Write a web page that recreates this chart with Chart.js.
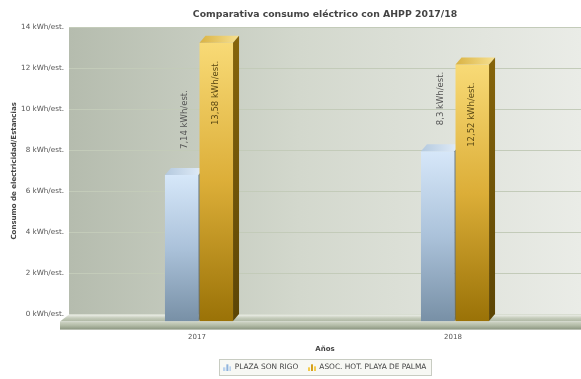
<!DOCTYPE html>
<html lang="es">
<head>
<meta charset="utf-8">
<title>Comparativa consumo eléctrico con AHPP 2017/18</title>
<script src="https://cdn.jsdelivr.net/npm/chart.js"></script>
<style>
  html, body { margin: 0; padding: 0; background: #fff; }
  #chart { display: block; }
</style>
</head>
<body>
<canvas id="chart" width="581" height="379"></canvas>
<script>
// Consumo por estancia (kWh/est.)
const years = ['2017', '2018'];
const plazaSonRigo = [7.14, 8.3];
const asocHotPlayaPalma = [13.58, 12.52];
const seriesNames = ['PLAZA SON RIGO', 'ASOC. HOT. PLAYA DE PALMA'];
const yTickValues = [0, 2, 4, 6, 8, 10, 12, 14];
const unit = 'kWh/est.';

// 3D look: bars and floor stand in a front plane shifted down/left from the back wall
const DEPTH_X = 6;
const DEPTH_Y = 7;
const BAR_SHIFT = 2;
const FLOOR_OVERHANG = 9;
const FLOOR_THICK = 8;

const palettes = [
  {
    front: ['#d6e7f9', '#abc2da', '#7890a6'],
    top: ['#b4c9de', '#e3eefa'],
    side: ['#6b8197', '#53667a'],
    label: '#555555',
    icon: ['#b9d2ee', '#8fb3dc']
  },
  {
    front: ['#f8da76', '#dcae38', '#9a7207'],
    top: ['#d9b243', '#f7e191'],
    side: ['#86650b', '#5c4505'],
    label: '#5a4814',
    icon: ['#f3cb4e', '#d4a11e']
  }
];

Chart.defaults.font.family = '"DejaVu Sans", Verdana, sans-serif';

function makeIcon(colors) {
  const c = document.createElement('canvas');
  c.width = 8;
  c.height = 8;
  const g = c.getContext('2d');
  [4, 7, 5].forEach((h, i) => {
    g.fillStyle = colors[i % 2];
    g.fillRect(i * 3, 8 - h, 2, h);
  });
  return c;
}
const icons = palettes.map(p => makeIcon(p.icon));

function fmt(v) {
  return String(v).replace('.', ',') + ' ' + unit;
}

function vGrad(ctx, y1, y2, stops) {
  const g = ctx.createLinearGradient(0, y1, 0, y2);
  stops.forEach((c, i) => g.addColorStop(i / (stops.length - 1), c));
  return g;
}

// back wall and legend frame, painted under everything else
const wallPlugin = {
  id: 'wall',
  beforeDraw(chart) {
    const { ctx, chartArea: a } = chart;
    ctx.save();
    const g = ctx.createLinearGradient(a.left, 0, a.right, 0);
    g.addColorStop(0, '#b5bcae');
    g.addColorStop(0.45, '#d3d8cd');
    g.addColorStop(1, '#eaece7');
    ctx.fillStyle = g;
    ctx.fillRect(a.left, a.top, a.right - a.left, a.bottom - a.top);

    const boxes = chart.legend && chart.legend.legendHitBoxes;
    if (boxes && boxes.length) {
      const l = Math.round(Math.min(...boxes.map(b => b.left)) - 5);
      const r = Math.round(Math.max(...boxes.map(b => b.left + b.width)) + 6);
      const t = Math.round(Math.min(...boxes.map(b => b.top)) - 5);
      const bt = Math.round(Math.max(...boxes.map(b => b.top + b.height)) + 5);
      ctx.fillStyle = '#f7f8f4';
      ctx.fillRect(l, t, r - l, bt - t);
      ctx.strokeStyle = '#c8ccc2';
      ctx.lineWidth = 1;
      ctx.strokeRect(l + 0.5, t + 0.5, r - l - 1, bt - t - 1);
    }
    ctx.restore();
  }
};

// floor slab at the zero line
const floorPlugin = {
  id: 'floor',
  beforeDatasetsDraw(chart) {
    const { ctx, chartArea: a } = chart;
    const y0 = chart.scales.y.getPixelForValue(0);
    const fl = a.left - FLOOR_OVERHANG;
    ctx.save();
    ctx.beginPath();
    ctx.moveTo(a.left, y0);
    ctx.lineTo(a.right, y0);
    ctx.lineTo(a.right, y0 + DEPTH_Y);
    ctx.lineTo(fl, y0 + DEPTH_Y);
    ctx.closePath();
    ctx.fillStyle = vGrad(ctx, y0, y0 + DEPTH_Y, ['#eef0ea', '#c4cbba', '#adb6a2']);
    ctx.fill();
    ctx.fillStyle = vGrad(ctx, y0 + DEPTH_Y, y0 + DEPTH_Y + FLOOR_THICK, ['#cfd5c6', '#b1baa5', '#8a947f']);
    ctx.fillRect(fl, y0 + DEPTH_Y, a.right - fl, FLOOR_THICK);
    ctx.restore();
  }
};

// extruded bars plus rotated value labels
const barsPlugin = {
  id: 'bars3d',
  afterDatasetsDraw(chart) {
    const ctx = chart.ctx;
    ctx.save();
    chart.data.datasets.forEach((ds, di) => {
      const pal = palettes[di];
      chart.getDatasetMeta(di).data.forEach(bar => {
        const { x, y, base, width } = bar.getProps(['x', 'y', 'base', 'width'], true);
        const l = x - width / 2 + BAR_SHIFT;
        const r = x + width / 2 + BAR_SHIFT;
        const top = y + DEPTH_Y;
        const bot = base + DEPTH_Y;

        ctx.fillStyle = vGrad(ctx, top, bot, pal.front);
        ctx.fillRect(l, top, r - l, bot - top);

        ctx.beginPath();
        ctx.moveTo(l, top);
        ctx.lineTo(l + DEPTH_X, y);
        ctx.lineTo(r + DEPTH_X, y);
        ctx.lineTo(r, top);
        ctx.closePath();
        const tg = ctx.createLinearGradient(l, 0, r + DEPTH_X, 0);
        tg.addColorStop(0, pal.top[0]);
        tg.addColorStop(1, pal.top[1]);
        ctx.fillStyle = tg;
        ctx.fill();

        ctx.beginPath();
        ctx.moveTo(r, top);
        ctx.lineTo(r + DEPTH_X, y);
        ctx.lineTo(r + DEPTH_X, base);
        ctx.lineTo(r, bot);
        ctx.closePath();
        ctx.fillStyle = vGrad(ctx, y, bot, pal.side);
        ctx.fill();
      });
    });

    ctx.font = '8.5px "DejaVu Sans", Verdana, sans-serif';
    ctx.textBaseline = 'middle';
    chart.data.datasets.forEach((ds, di) => {
      const pal = palettes[di];
      chart.getDatasetMeta(di).data.forEach((bar, i) => {
        const { x, y } = bar.getProps(['x', 'y'], true);
        ctx.save();
        ctx.fillStyle = pal.label;
        if (di === 0) {
          ctx.translate(x + BAR_SHIFT + 3, y - 19);
          ctx.rotate(-Math.PI / 2);
          ctx.textAlign = 'left';
        } else {
          ctx.translate(x + BAR_SHIFT, y + DEPTH_Y + 18);
          ctx.rotate(-Math.PI / 2);
          ctx.textAlign = 'right';
        }
        ctx.fillText(fmt(ds.data[i]), 0, 0);
        ctx.restore();
      });
    });
    ctx.restore();
  }
};

new Chart(document.getElementById('chart'), {
  type: 'bar',
  data: {
    labels: years,
    datasets: [
      { label: seriesNames[0], data: plazaSonRigo },
      { label: seriesNames[1], data: asocHotPlayaPalma }
    ].map(d => Object.assign(d, {
      backgroundColor: 'rgba(0,0,0,0)',
      borderWidth: 0,
      categoryPercentage: 0.27,
      barPercentage: 0.97
    }))
  },
  options: {
    responsive: false,
    animation: false,
    layout: { padding: { left: 8, right: 0, top: 0, bottom: -2 } },
    scales: {
      x: {
        grid: { display: false, drawTicks: false },
        border: { display: false },
        ticks: { color: '#555', font: { size: 7 }, padding: 18 },
        title: {
          display: true,
          text: 'Años',
          color: '#444',
          font: { size: 7, weight: 'bold' },
          padding: { top: 0, bottom: 0 }
        },
        afterFit(scale) { scale.height = 39; }
      },
      y: {
        min: yTickValues[0],
        max: yTickValues[yTickValues.length - 1],
        grid: { color: '#c3cbb9', drawTicks: false },
        border: { display: false },
        ticks: {
          stepSize: yTickValues[1] - yTickValues[0],
          color: '#555',
          font: { size: 7.2 },
          padding: 5,
          callback: v => v + ' ' + unit
        },
        title: {
          display: true,
          text: 'Consumo de electricidad/Estancias',
          color: '#444',
          font: { size: 7, weight: 'bold' },
          padding: { top: 2, bottom: 0 }
        },
        afterFit(scale) { scale.width = 61; }
      }
    },
    plugins: {
      title: {
        display: true,
        fullSize: false,
        text: 'Comparativa consumo eléctrico con AHPP 2017/18',
        color: '#444',
        font: { size: 9.3, weight: 'bold' },
        padding: { top: 9, bottom: 7 }
      },
      legend: {
        position: 'bottom',
        fullSize: false,
        labels: {
          usePointStyle: true,
          color: '#444',
          font: { size: 7.4 },
          padding: 10,
          generateLabels(chart) {
            const items = Chart.defaults.plugins.legend.labels.generateLabels(chart);
            items.forEach((it, i) => { it.pointStyle = icons[i]; });
            return items;
          }
        }
      },
      tooltip: { enabled: false }
    }
  },
  plugins: [wallPlugin, floorPlugin, barsPlugin]
});
</script>
</body>
</html>
